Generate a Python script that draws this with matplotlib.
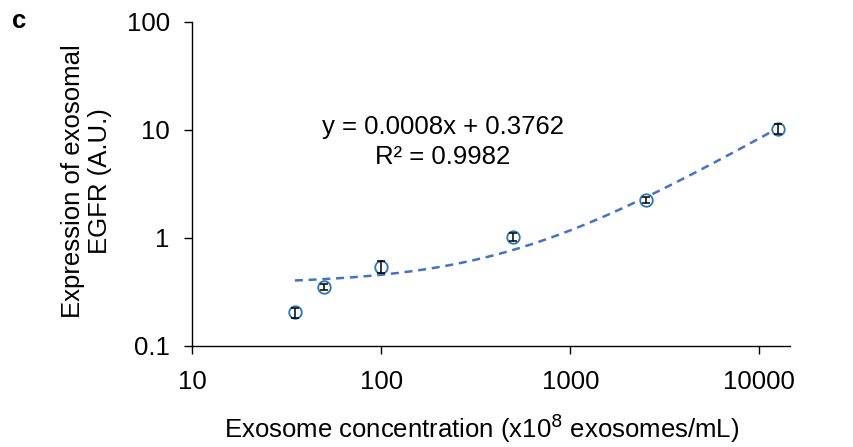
import numpy as np
import matplotlib
matplotlib.use("Agg")
import matplotlib.pyplot as plt

plt.rcParams['font.family'] = ['Liberation Sans', 'DejaVu Sans']

# Data
concentration = [35, 50, 100, 500, 2500, 12500]
expression = [0.205, 0.35, 0.54, 1.02, 2.25, 10.2]
err = [0.022, 0.022, 0.07, 0.09, 0.14, 1.1]

# Trendline coefficients (from the chart)
slope = 0.0008
intercept = 0.3762
r2 = 0.9982

x_ticks = [10, 100, 1000, 10000]
x_tick_labels = ["10", "100", "1000", "10000"]
y_ticks = [0.1, 1, 10, 100]
y_tick_labels = ["0.1", "1", "10", "100"]

FS = 18.5

fig = plt.figure(figsize=(8.54, 4.47), dpi=100)
ax = fig.add_axes([0.2248, 0.226, 0.7002, 0.7248])

ax.set_xscale('log')
ax.set_yscale('log')
ax.set_xlim(10, 14500)
ax.set_ylim(0.1, 100)

xf = np.logspace(np.log10(concentration[0]), np.log10(concentration[-1]), 200)
ax.plot(xf, slope * xf + intercept, linestyle=(0, (3.2, 2.3)), color='#4472c4', lw=1.8, zorder=2)

ax.plot(concentration, expression, 'o', mfc='white', mec='#2e75b6', mew=1.3, ms=9, zorder=3)
ax.errorbar(concentration, expression, yerr=err, fmt='none',
            ecolor='black', elinewidth=1.1, capsize=2.6, capthick=1.1, zorder=4)

for s in ['top', 'right']:
    ax.spines[s].set_visible(False)
for s in ['left', 'bottom']:
    ax.spines[s].set_color('black')
    ax.spines[s].set_linewidth(1.0)

ax.set_xticks(x_ticks)
ax.set_xticklabels(x_tick_labels)
ax.set_yticks(y_ticks)
ax.set_yticklabels(y_tick_labels)
ax.minorticks_off()
ax.tick_params(axis='both', which='major', direction='out', length=6, width=1.0,
               labelsize=FS, colors='black')
ax.tick_params(axis='x', pad=11)
ax.tick_params(axis='y', pad=10)

ax.set_xlabel("Exosome concentration (x10$^{8}$ exosomes/mL)", fontsize=FS, va='center')
ax.xaxis.set_label_coords(0.484, -0.253)
ax.set_ylabel("Expression of exosomal\nEGFR (A.U.)", fontsize=FS, linespacing=1.15, va='center')
ax.yaxis.set_label_coords(-0.177, 0.51)

ax.text(0.419, 0.63, f"y = {slope}x + {intercept}\nR² = {r2}", transform=ax.transAxes,
        ha='center', va='center', fontsize=FS, linespacing=1.3)

fig.text(0.014, 0.953, "c", fontsize=18.5, fontweight='bold', va='center')

fig.savefig("out.png", dpi=100)
